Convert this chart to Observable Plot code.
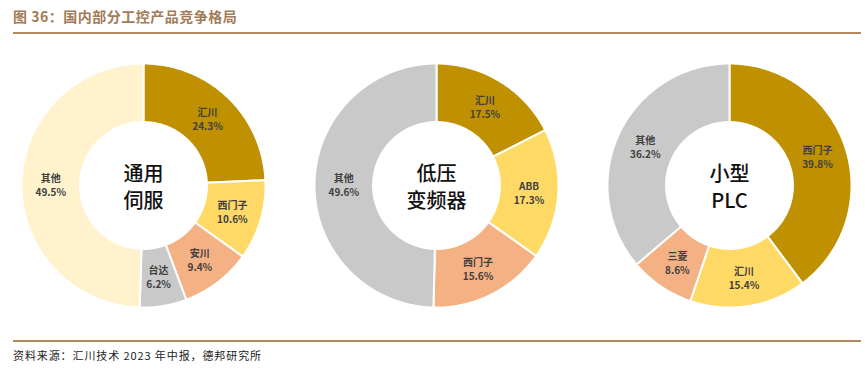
<!DOCTYPE html>
<html>
<head>
<meta charset="utf-8">
<script src="https://cdn.jsdelivr.net/npm/d3@7"></script>
<script src="https://cdn.jsdelivr.net/npm/@observablehq/plot@0.6"></script>
<style>
  body { margin: 0; background: #fff; width: 865px; height: 376px; position: relative; overflow: hidden; font-family: "Noto Sans CJK SC", sans-serif; }
  #title { position: absolute; left: 13px; top: 6px; font-size: 14px; font-weight: bold; color: #A27B58; letter-spacing: 0.5px; }
  .rule { position: absolute; left: 13px; width: 848px; height: 2px; background: #B4875F; }
  #chart { position: absolute; left: 0; top: 35px; }
  #caption { position: absolute; left: 13px; top: 347px; font-size: 11px; color: #222; letter-spacing: 0.9px; }
</style>
</head>
<body>
<div id="title">图 36：国内部分工控产品竞争格局</div>
<div class="rule" style="top:32px"></div>
<div id="chart"></div>
<div class="rule" style="top:340px"></div>
<div id="caption">资料来源：汇川技术 2023 年中报，德邦研究所</div>
<script>
// ---- data ----
const charts = ["通用伺服", "低压变频器", "小型PLC"];
const centerLabels = ["通用\n伺服", "低压\n变频器", "小型\nPLC"];

const servoNames = ["汇川", "西门子", "安川", "台达", "其他"];
const servoShares = [24.3, 10.6, 9.4, 6.2, 49.5];
const servoColors = ["#BF9000", "#FFD966", "#F4B183", "#C9C9C9", "#FFF2CC"];

const inverterNames = ["汇川", "ABB", "西门子", "其他"];
const inverterShares = [17.5, 17.3, 15.6, 49.6];
const inverterColors = ["#BF9000", "#FFD966", "#F4B183", "#C9C9C9"];

const plcNames = ["西门子", "汇川", "三菱", "其他"];
const plcShares = [39.8, 15.4, 8.6, 36.2];
const plcColors = ["#BF9000", "#FFD966", "#F4B183", "#C9C9C9"];

const groups = [
  {chart: charts[0], names: servoNames, shares: servoShares, colors: servoColors},
  {chart: charts[1], names: inverterNames, shares: inverterShares, colors: inverterColors},
  {chart: charts[2], names: plcNames, shares: plcShares, colors: plcColors}
];

// ---- build ring slices (outer radius 1, inner radius 0.52) ----
const R0 = 0.52, R1 = 1, RL = 0.76;
const points = [], labels = [];
groups.forEach(g => {
  const total = d3.sum(g.shares);
  let acc = 0;
  g.shares.forEach((v, i) => {
    const a0 = acc / total * 2 * Math.PI;
    acc += v;
    const a1 = acc / total * 2 * Math.PI;
    const key = g.chart + "-" + g.names[i];
    const n = Math.max(2, Math.ceil((a1 - a0) / (Math.PI / 180)));
    const pts = [];
    for (let k = 0; k <= n; k++) { const a = a0 + (a1 - a0) * k / n; pts.push([Math.sin(a) * R1, Math.cos(a) * R1]); }
    for (let k = n; k >= 0; k--) { const a = a0 + (a1 - a0) * k / n; pts.push([Math.sin(a) * R0, Math.cos(a) * R0]); }
    pts.push(pts[0]);
    pts.forEach(([x, y]) => points.push({chart: g.chart, key, x, y, color: g.colors[i]}));
    const am = (a0 + a1) / 2;
    labels.push({chart: g.chart, x: Math.sin(am) * RL, y: Math.cos(am) * RL, text: g.names[i] + "\n" + v.toFixed(1) + "%"});
  });
});
const centers = charts.map((c, i) => ({chart: c, text: centerLabels[i]}));

const plot = Plot.plot({
  width: 865,
  height: 305,
  marginLeft: 21,
  marginRight: 14,
  marginTop: 28,
  marginBottom: 33,
  style: {fontFamily: "'Noto Sans CJK SC', sans-serif", background: "transparent"},
  fx: {domain: charts, paddingInner: 0.1672, paddingOuter: 0, round: false, axis: null},
  x: {domain: [-1, 1], axis: null},
  y: {domain: [-1, 1], axis: null},
  color: {type: "identity"},
  marks: [
    Plot.line(points, {fx: "chart", x: "x", y: "y", z: "key", fill: "color", stroke: "white", strokeWidth: 2, strokeLinejoin: "miter", curve: "linear"}),
    Plot.text(labels, {fx: "chart", x: "x", y: "y", text: "text", fontSize: 10, fontWeight: "bold", fill: "#404040", lineHeight: 1.4}),
    Plot.text(centers, {fx: "chart", frameAnchor: "middle", text: "text", fontSize: 20, fontWeight: 500, fill: "#111", lineHeight: 1.35})
  ]
});
document.getElementById("chart").appendChild(plot);
</script>
</body>
</html>
